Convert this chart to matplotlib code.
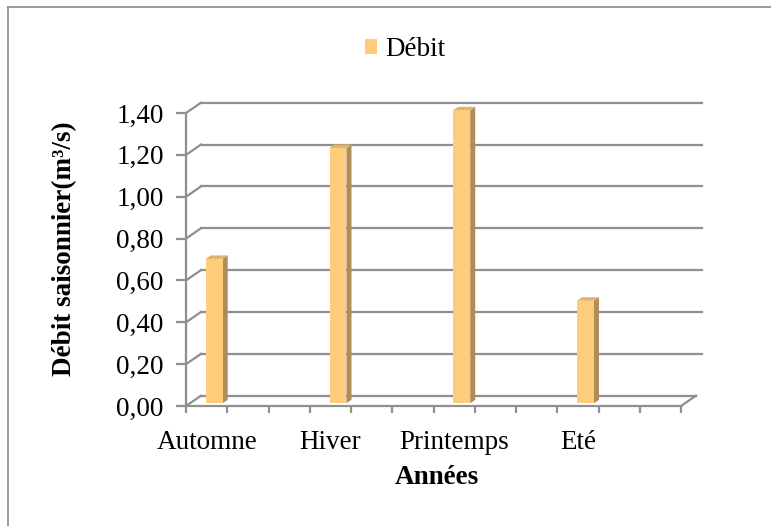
import matplotlib
matplotlib.use("Agg")
import matplotlib.pyplot as plt
from matplotlib.patches import Rectangle, Polygon, Patch
from matplotlib.lines import Line2D

# ---- data ----
categories = ["Automne", "Hiver", "Printemps", "Eté"]
values = [0.69, 1.22, 1.40, 0.49]
slots = [0, 3, 6, 9]          # category slot on the 12-slot axis
n_slots = 12
yticks = [0.0, 0.2, 0.4, 0.6, 0.8, 1.0, 1.2, 1.4]
ytick_labels = ["0,00", "0,20", "0,40", "0,60", "0,80", "1,00", "1,20", "1,40"]
series_name = "Débit"
ylabel = "Débit saisonnier(m³/s)"
xlabel = "Années"

W, H = 771, 526
fig = plt.figure(figsize=(W / 100, H / 100), dpi=100)
plt.rcParams['font.family'] = ['Liberation Serif', 'DejaVu Serif']

def fx(px):
    return px / W

def fy(py):
    return 1 - py / H

# front plane of the 3-D box
L, R, B, T = 186, 681, 406, 113
ax = fig.add_axes([fx(L), fy(B), (R - L) / W, (B - T) / H])
ax.set_xlim(0, n_slots)
ax.set_ylim(0, 1.4)
ax.set_facecolor('none')

px_x = (R - L) / n_slots          # pixels per slot
px_y = (B - T) / 1.4              # pixels per value unit
DX = 15 / px_x                    # depth offset (slots)
DY = 10.3 / px_y                  # depth offset (value)

gcol = '#8f8f8f'
glw = 1.6

# back-wall gridlines and side-wall diagonals
for v in yticks:
    if v > 0:
        ax.add_line(Line2D([DX, n_slots + 0.5], [v + DY, v + DY], color=gcol, lw=glw,
                           clip_on=False, zorder=1))
    ax.add_line(Line2D([0, DX], [v, v + DY], color=gcol, lw=glw, clip_on=False, zorder=1))

# floor
ax.add_line(Line2D([DX, n_slots + DX], [DY, DY], color=gcol, lw=glw, clip_on=False, zorder=1))
ax.add_line(Line2D([n_slots, n_slots + DX], [0, DY], color=gcol, lw=glw, clip_on=False, zorder=1))

# bars
front_c = '#FFCC7C'
side_c = '#B08C56'
top_c = '#E2B26A'
bar_off = 0.185
bar_w = 0.41
bdx = 5 / px_x
bdy = 3.5 / px_y
base = 2.7 / px_y
for s, v in zip(slots, values):
    x0 = s + 0.5 + bar_off - bar_w / 2
    x1 = x0 + bar_w
    top = v + base
    ax.add_patch(Polygon([(x1, base), (x1 + bdx, base + bdy), (x1 + bdx, top + bdy), (x1, top)],
                         closed=True, facecolor=side_c, edgecolor='none', zorder=3, clip_on=False))
    ax.add_patch(Polygon([(x0, top), (x0 + bdx, top + bdy), (x1 + bdx, top + bdy), (x1, top)],
                         closed=True, facecolor=top_c, edgecolor='none', zorder=3, clip_on=False))
    ax.add_patch(Rectangle((x0, base), bar_w, v, facecolor=front_c, edgecolor='none',
                           zorder=4, clip_on=False))

# axes / spines
for sp in ['top', 'right']:
    ax.spines[sp].set_visible(False)
for sp in ['left', 'bottom']:
    ax.spines[sp].set_color(gcol)
    ax.spines[sp].set_linewidth(glw)
    ax.spines[sp].set_zorder(2)

fs = 19.5
ax.set_yticks(yticks)
ax.set_yticklabels(ytick_labels, fontsize=fs)
ax.tick_params(axis='y', length=7, width=glw, color=gcol, pad=9)

ax.set_xticks([s + 0.5 for s in slots])
ax.set_xticklabels(categories, fontsize=fs)
ax.set_xticks(range(n_slots + 1), minor=True)
ax.tick_params(axis='x', which='major', length=0, pad=17)
ax.tick_params(axis='x', which='minor', length=5, width=glw, color=gcol)

# axis titles
fig.text(fx(65), fy(249), ylabel, rotation=90, fontsize=fs, fontweight='bold',
         ha='center', va='center')
fig.text(fx(437), fy(478), xlabel, fontsize=fs, fontweight='bold', ha='center', va='center')

# legend
fig.legend(handles=[Patch(facecolor=front_c, edgecolor='none', label=series_name)],
           loc='center', bbox_to_anchor=(fx(405), fy(50)), frameon=False, fontsize=fs,
           handlelength=0.46, handleheight=0.46, handletextpad=0.3)

# chart border (top and left edges visible)
fig.add_artist(Line2D([fx(8), fx(W + 5)], [fy(6.5), fy(6.5)], color='#8a8a8a', lw=1.2))
fig.add_artist(Line2D([fx(8), fx(8)], [fy(6.5), fy(H + 5)], color='#8a8a8a', lw=1.2))

fig.savefig('out.png', dpi=100)
